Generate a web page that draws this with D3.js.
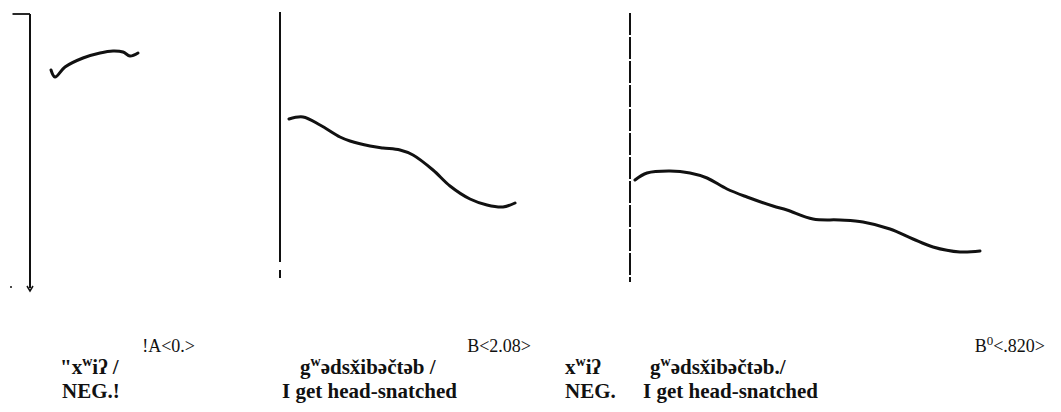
<!DOCTYPE html>
<html>
<head>
<meta charset="utf-8">
<script src="https://cdn.jsdelivr.net/npm/d3@7"></script>
<style>
  body { margin: 0; background: #fff; }
  text { font-family: "Liberation Serif", "DejaVu Serif", serif; fill: #111; }
</style>
</head>
<body>
<div id="chart"></div>
<script>
// pitch tracks, time in ms from the start line of each panel, pitch in Hz
const track1Time = [84, 100, 140, 212, 280, 332, 372, 400, 432];
const track1Hz = [190, 186.5, 191.5, 196, 198.5, 199.5, 199, 197, 198.5];

const track2Time = [36, 92, 160, 240, 280, 360, 412, 480, 532, 612, 680, 760, 828, 892, 940];
const track2Hz = [165.5, 166.5, 162.5, 156.5, 154.5, 152, 151, 150, 147.5, 140, 132, 125.5, 122.5, 121.5, 123.5];

const track3Time = [20, 68, 160, 240, 308, 388, 468, 572, 628, 732, 840, 932, 1040, 1132, 1212, 1320, 1400];
const track3Hz = [135, 138.5, 139.5, 138.5, 136, 130.5, 126.5, 122, 120, 115.5, 115, 114, 110.5, 105.5, 101.5, 99, 99.5];

// extent of each panel's start line, in Hz
const lineTop = [218, 219, 218.5];
const lineBottom = [81, 86, 84];

// labels under the panels
const codeLabels = ["!A<0.>", "B<2.08>", "B|0|<.820>"];
const formLabels = [
  [["\"x", "w", "iʔ /"]],
  [["g", "w", "ədsx̌ibəčtəb /"]],
  [["x", "w", "iʔ"], ["g", "w", "ədsx̌ibəčtəb./"]]
];
const glossLabels = [["NEG.!"], ["I get head-snatched"], ["NEG.", "I get head-snatched"]];

const width = 1061, height = 412;

const svg = d3.select("#chart").append("svg")
  .attr("width", width)
  .attr("height", height);

//Shared pitch scale for all three panels
const yScale = d3.scaleLinear().domain([80, 220]).range([290, 10]);

//Each panel has its own time origin at the vertical line
const panelX = [30, 280, 630];
const xScales = panelX.map(x0 => d3.scaleLinear().domain([0, 1000]).range([x0, x0 + 250]));

const tracks = [
  d3.zip(track1Time, track1Hz),
  d3.zip(track2Time, track2Hz),
  d3.zip(track3Time, track3Hz)
];

const dashStyles = [null, "250 8 8", "22 2"];

tracks.forEach((track, i) => {
  const x = xScales[i];
  const x0 = x(0);

  //start line of the panel
  svg.append("line")
    .attr("x1", x0).attr("x2", x0)
    .attr("y1", yScale(lineTop[i]))
    .attr("y2", yScale(lineBottom[i]))
    .attr("stroke", "#111")
    .attr("stroke-width", 2)
    .attr("stroke-dasharray", dashStyles[i]);

  const line = d3.line()
    .x(d => x(d[0]))
    .y(d => yScale(d[1]))
    .curve(d3.curveCatmullRom.alpha(0.5));

  svg.append("path")
    .datum(track)
    .attr("fill", "none")
    .attr("stroke", "#111")
    .attr("stroke-width", 3)
    .attr("stroke-linecap", "round")
    .attr("d", line);
});

//little marks on the first panel's line
svg.append("line")
  .attr("x1", xScales[0](-70)).attr("x2", xScales[0](0))
  .attr("y1", yScale(lineTop[0])).attr("y2", yScale(lineTop[0]))
  .attr("stroke", "#111").attr("stroke-width", 1.8);
svg.append("path")
  .attr("d", `M${xScales[0](-12)},${yScale(lineBottom[0]) - 2} L${xScales[0](0)},${yScale(lineBottom[0]) + 3} L${xScales[0](12)},${yScale(lineBottom[0]) - 2}`)
  .attr("fill", "none").attr("stroke", "#111").attr("stroke-width", 1.5);
svg.append("line")
  .attr("x1", xScales[0](-80)).attr("x2", xScales[0](-72))
  .attr("y1", yScale(lineBottom[0]) - 1).attr("y2", yScale(lineBottom[0]) - 1)
  .attr("stroke", "#111").attr("stroke-width", 1.5);

//code labels, right aligned
const codeX = [195, 531, 1045];
codeLabels.forEach((lab, i) => {
  const parts = lab.split("|");
  const t = svg.append("text")
    .attr("x", codeX[i]).attr("y", 352)
    .attr("text-anchor", "end")
    .style("font-size", "18px");
  parts.forEach((p, j) => {
    t.append("tspan")
      .attr("dy", j === 1 ? -7 : (j === 2 ? 7 : 0))
      .style("font-size", j === 1 ? "13px" : "18px")
      .text(p);
  });
});

//transcription lines with superscript w
const formX = [[60], [300], [565, 650]];
formLabels.forEach((group, i) => {
  group.forEach((f, k) => {
    const t = svg.append("text")
      .attr("x", formX[i][k]).attr("y", 374)
      .style("font-size", "21px")
      .style("font-weight", "bold");
    t.append("tspan").text(f[0]);
    t.append("tspan").attr("dy", -8).style("font-size", "14px").text(f[1]);
    t.append("tspan").attr("dy", 8).text(f[2]);
  });
});

//gloss lines
const glossX = [[62], [282], [565, 643]];
glossLabels.forEach((group, i) => {
  group.forEach((g, k) => {
    svg.append("text")
      .attr("x", glossX[i][k]).attr("y", 398)
      .style("font-size", "21px")
      .style("font-weight", "bold")
      .text(g);
  });
});
</script>
</body>
</html>
